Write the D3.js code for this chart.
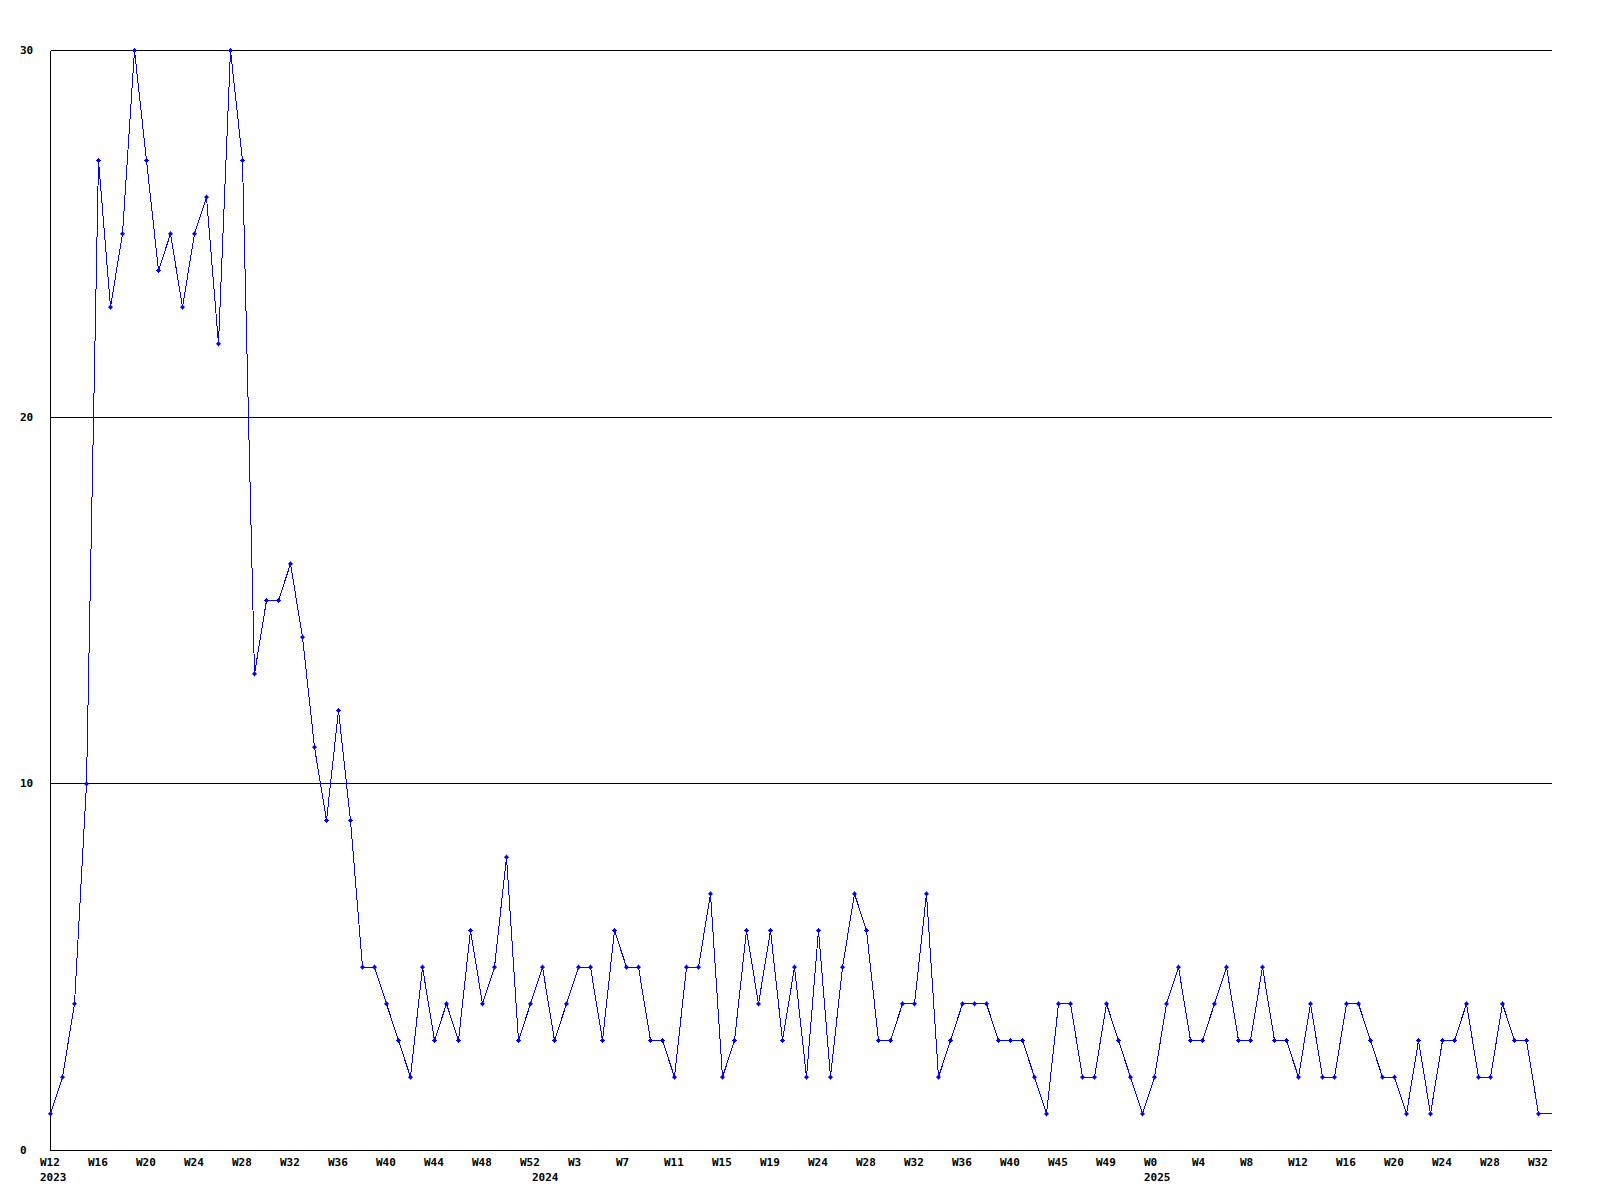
<!DOCTYPE html>
<html>
<head>
<meta charset="utf-8">
<script src="https://cdn.jsdelivr.net/npm/d3@7"></script>
<style>
  body { margin: 0; background: #fff; }
  text { font-family: "DejaVu Sans Mono", monospace; font-weight: bold; font-size: 11px; fill: #000; }
</style>
</head>
<body>
<div id="chart"></div>
<script>
// weekly counts, W12 2023 .. W33 2025
var weeks = [
  "W12","W13","W14","W15","W16","W17","W18","W19","W20","W21","W22","W23","W24","W25","W26","W27",
  "W28","W29","W30","W31","W32","W33","W34","W35","W36","W37","W38","W39","W40","W41","W42","W43",
  "W44","W45","W46","W47","W48","W49","W50","W51","W52",
  "W0","W1","W2","W3","W4","W5","W6","W7","W8","W9","W10","W11","W12","W13","W14","W15","W16",
  "W17","W18","W19","W20","W21","W22","W24","W25","W26","W27","W28","W29","W30","W31","W32","W33",
  "W34","W35","W36","W37","W38","W39","W40","W41","W42","W43","W45","W46","W47","W48","W49","W50",
  "W51","W52",
  "W0","W1","W2","W3","W4","W5","W6","W7","W8","W9","W10","W11","W12","W13","W14","W15","W16",
  "W17","W18","W19","W20","W21","W22","W23","W24","W25","W26","W27","W28","W29","W30","W31","W32","W33"
];
var yearLabels = ["2023", "2024", "2025"];
var values = [
  1, 2, 4, 10, 27, 23, 25, 30, 27, 24, 25, 23, 25, 26, 22, 30,
  27, 13, 15, 15, 16, 14, 11, 9, 12, 9, 5, 5, 4, 3, 2, 5,
  3, 4, 3, 6, 4, 5, 8, 3, 4,
  5, 3, 4, 5, 5, 3, 6, 5, 5, 3, 3, 2, 5, 5, 7, 2, 3,
  6, 4, 6, 3, 5, 2, 6, 2, 5, 7, 6, 3, 3, 4, 4, 7,
  2, 3, 4, 4, 4, 3, 3, 3, 2, 1, 4, 4, 2, 2, 4, 3,
  2, 1,
  2, 4, 5, 3, 3, 4, 5, 3, 3, 5, 3, 3, 2, 4, 2, 2, 4,
  4, 3, 2, 2, 1, 3, 1, 3, 3, 4, 2, 2, 4, 3, 3, 1, 1
];
var yTicks = [0, 10, 20, 30];

var width = 1600,
    height = 1200;
var plotLeft = 50, plotTop = 50, plotRight = 1551, plotBottom = 1150;

var svg = d3.select("#chart").append("svg")
    .attr("width", width)
    .attr("height", height)
    .style("display", "block");

var x = d3.scaleLinear()
    .domain([0, values.length - 1])
    .range([plotLeft, plotLeft + 12 * (values.length - 1)]);

var y = d3.scaleLinear()
    .domain([0, 30])
    .range([plotBottom, plotTop]);

var g = svg.append("g").attr("transform", "translate(0.5,0.5)");

// gridlines
g.selectAll(".grid")
    .data(yTicks.filter(function(d) { return d > 0; }))
    .enter().append("line")
    .attr("x1", plotLeft).attr("x2", plotRight)
    .attr("y1", function(d) { return y(d); })
    .attr("y2", function(d) { return y(d); })
    .attr("stroke", "#000")
    .attr("shape-rendering", "crispEdges");

// axes
g.append("line")
    .attr("x1", plotLeft).attr("x2", plotLeft)
    .attr("y1", plotTop).attr("y2", plotBottom)
    .attr("stroke", "#000").attr("shape-rendering", "crispEdges");
g.append("line")
    .attr("x1", plotLeft).attr("x2", plotRight)
    .attr("y1", plotBottom).attr("y2", plotBottom)
    .attr("stroke", "#000").attr("shape-rendering", "crispEdges");

// y labels
svg.selectAll(".ylab")
    .data(yTicks)
    .enter().append("text")
    .attr("x", 20)
    .attr("y", function(d) { return y(d) + 4; })
    .text(function(d) { return d; });

// x labels every 4 weeks
var idx = d3.range(0, weeks.length, 4);
svg.selectAll(".xlab")
    .data(idx)
    .enter().append("text")
    .attr("x", function(i) { return x(i) - 10; })
    .attr("y", 1166)
    .text(function(i) { return weeks[i]; });

// year labels where a new year starts
var starts = weeks.map(function(w, i) {
    return i === 0 || +w.slice(1) < +weeks[i - 1].slice(1) ? i : -1;
}).filter(function(i) { return i >= 0; });
svg.selectAll(".year")
    .data(starts)
    .enter().append("text")
    .attr("x", function(i) { return x(i) - 10; })
    .attr("y", 1181)
    .text(function(i, k) { return yearLabels[k]; });

// line, runs on to the right edge of the plot
svg.append("path")
    .datum(values.concat([values[values.length - 1]]))
    .attr("d", d3.line()
        .x(function(d, i) { return i < values.length ? x(i) + 0.5 : plotRight + 0.5; })
        .y(function(d) { return y(d) + 0.5; }))
    .attr("fill", "none")
    .attr("stroke", "#0000ff")
    .attr("stroke-width", 1)
    .attr("shape-rendering", "crispEdges");

// markers (small plus), last one falls on the edge and is not drawn
var m = svg.selectAll(".mark")
    .data(values.slice(0, values.length - 1))
    .enter().append("g")
    .attr("transform", function(d, i) { return "translate(" + x(i) + "," + y(d) + ")"; });
m.append("rect").attr("x", -2).attr("y", 0).attr("width", 5).attr("height", 1).attr("fill", "#0000ff");
m.append("rect").attr("x", 0).attr("y", -2).attr("width", 1).attr("height", 5).attr("fill", "#0000ff");
m.append("rect").attr("x", -1).attr("y", -1).attr("width", 3).attr("height", 3).attr("fill", "#0000ff");
</script>
</body>
</html>
